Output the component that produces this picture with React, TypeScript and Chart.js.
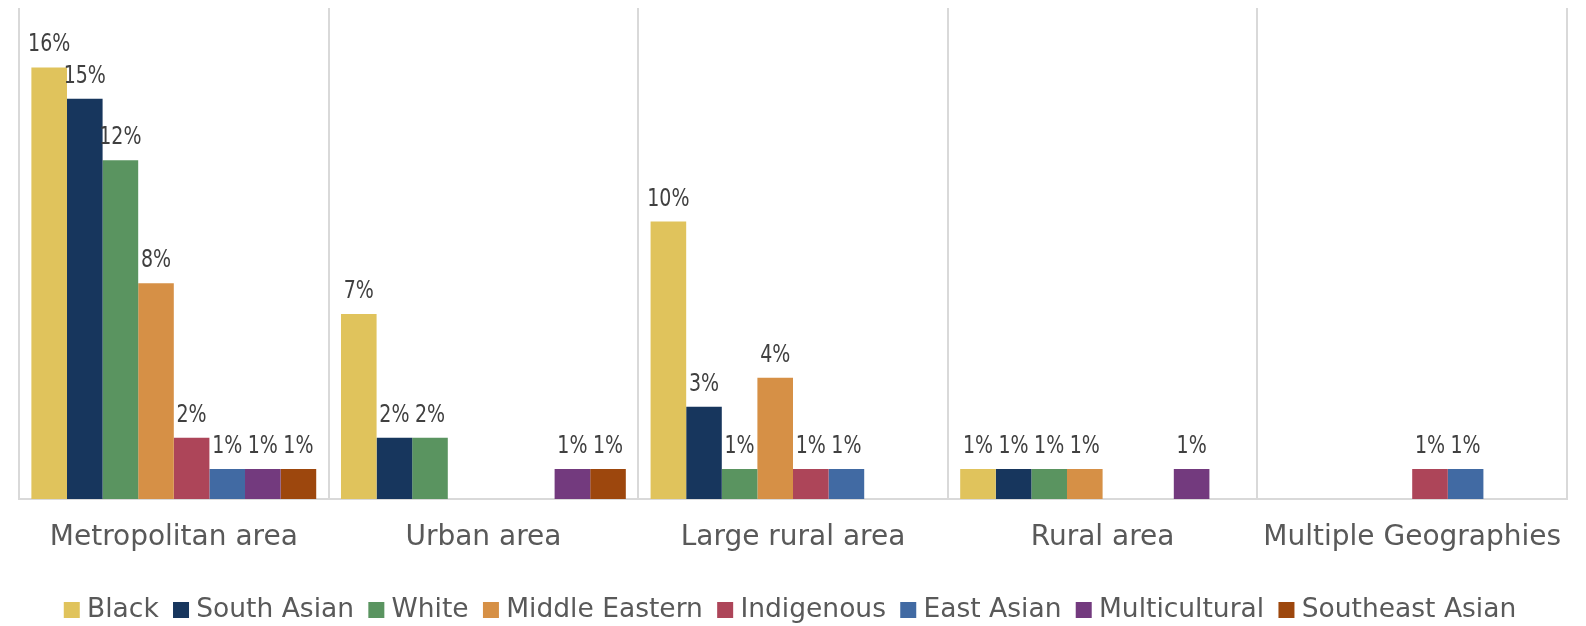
import React, { useEffect, useRef } from "react";
import { Chart, registerables } from "chart.js";

Chart.register(...registerables);

const categories = ["Metropolitan area", "Urban area", "Large rural area", "Rural area", "Multiple Geographies"];

const seriesNames = ["Black", "South Asian", "White", "Middle Eastern", "Indigenous", "East Asian", "Multicultural", "Southeast Asian"];

const black = [15.82, 6.78, 10.17, 1.1, null];
const southAsian = [14.67, 2.25, 3.38, 1.1, null];
const white = [12.42, 2.25, 1.1, 1.1, null];
const middleEastern = [7.91, null, 4.45, 1.1, null];
const indigenous = [2.25, null, 1.1, null, 1.1];
const eastAsian = [1.1, null, 1.1, null, 1.1];
const multicultural = [1.1, 1.1, null, 1.1, null];
const southeastAsian = [1.1, 1.1, null, null, null];

const seriesValues = [black, southAsian, white, middleEastern, indigenous, eastAsian, multicultural, southeastAsian];
const seriesColors = ["#E0C35C", "#17365D", "#5A9460", "#D69046", "#AD4559", "#416AA3", "#733A7E", "#9D470D"];

const FONT = "'DejaVu Sans', sans-serif";

const dataLabelPlugin = {
  id: "dataLabels",
  afterDatasetsDraw(chart: any) {
    const ctx = chart.ctx;
    ctx.save();
    ctx.fillStyle = "#404040";
    ctx.font = `25px ${FONT}`;
    ctx.textAlign = "center";
    ctx.textBaseline = "alphabetic";
    chart.data.datasets.forEach((ds: any, di: number) => {
      const meta = chart.getDatasetMeta(di);
      meta.data.forEach((bar: any, i: number) => {
        const v = ds.data[i];
        if (v === null || v === undefined) return;
        const txt = Math.round(v) + "%";
        ctx.save();
        ctx.translate(bar.x, bar.y - 16);
        ctx.scale(0.76, 1);
        ctx.fillText(txt, 0, 0);
        ctx.restore();
      });
    });
    ctx.restore();
  },
};

export default function App() {
  const ref = useRef<HTMLCanvasElement>(null);
  useEffect(() => {
    if (!ref.current) return;
    const chart = new Chart(ref.current, {
      type: "bar",
      data: {
        labels: categories,
        datasets: seriesNames.map((name, i) => ({
          label: name,
          data: seriesValues[i],
          backgroundColor: seriesColors[i],
          borderWidth: 0,
          categoryPercentage: 0.92,
          barPercentage: 1.0,
        })),
      },
      options: {
        responsive: false,
        animation: false,
        layout: { padding: { top: 8, left: 19, right: 19, bottom: -7.25 } },
        plugins: {
          tooltip: { enabled: false },
          legend: {
            position: "bottom",
            labels: {
              usePointStyle: true,
              pointStyle: "rect",
              boxWidth: 4,
              boxHeight: 16,
              padding: 20.3,
              color: "#595959",
              font: { family: FONT, size: 26.5 },
            },
          },
        },
        scales: {
          x: {
            grid: { display: true, offset: true, drawTicks: false, color: "#D9D9D9", lineWidth: 2 },
            border: { display: true, color: "#D9D9D9", width: 2 },
            ticks: {
              color: "#595959",
              font: { family: FONT, size: 28, lineHeight: 1.2 },
              padding: 21.9,
              maxRotation: 0,
              autoSkip: false,
            },
          },
          y: { display: false, min: 0, max: 18 },
        },
      },
      plugins: [dataLabelPlugin],
    });
    return () => chart.destroy();
  }, []);
  return (
    <div style={{ position: "fixed", left: 0, top: 0, width: 1586, height: 626, overflow: "hidden", background: "#fff" }}>
      <canvas ref={ref} width={1586} height={626} style={{ display: "block" }} />
    </div>
  );
}
